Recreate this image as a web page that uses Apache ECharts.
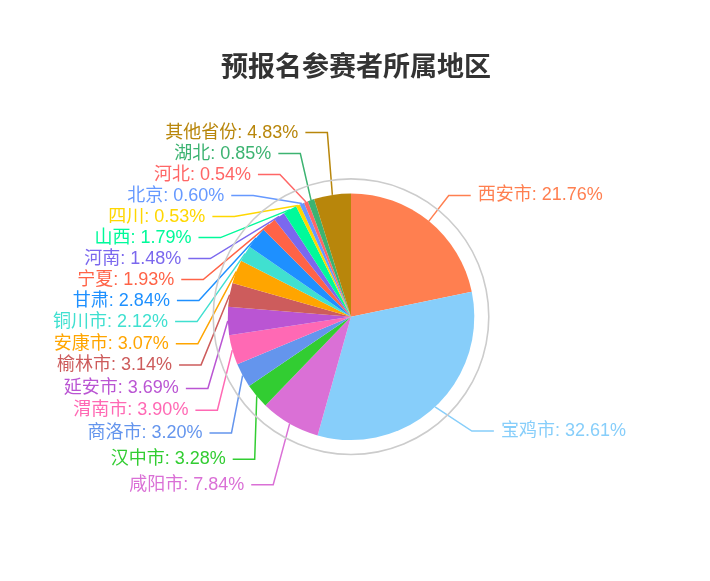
<!DOCTYPE html>
<html lang="zh">
<head>
    <meta charset="UTF-8">
    <title>预报名参赛者所属地区</title>
    <script src="https://cdn.jsdelivr.net/npm/echarts@6/dist/echarts.min.js"></script>
    <style>
        html, body { margin: 0; padding: 0; background: #fff; }
        #chart { width: 710px; height: 581px; }
    </style>
</head>
<body>
<div id="chart"></div>
<script>
    var titleText = '预报名参赛者所属地区';
    var regions = ['西安市', '宝鸡市', '咸阳市', '汉中市', '商洛市', '渭南市', '延安市', '榆林市', '安康市', '铜川市',
        '甘肃', '宁夏', '河南', '山西', '四川', '北京', '河北', '湖北', '其他省份'];
    var shares = [21.76, 32.61, 7.84, 3.28, 3.20, 3.90, 3.69, 3.14, 3.07, 2.12,
        2.84, 1.93, 1.48, 1.79, 0.53, 0.60, 0.54, 0.85, 4.83];
    var palette = ['#ff7f50', '#87cefa', '#da70d6', '#32cd32', '#6495ed', '#ff69b4', '#ba55d3', '#cd5c5c', '#ffa500', '#40e0d0',
        '#1e90ff', '#ff6347', '#7b68ee', '#00fa9a', '#ffd700', '#6699ff', '#ff6666', '#3cb371', '#b8860b'];

    var font = '"Microsoft YaHei", "Liberation Sans", "Noto Sans CJK SC", sans-serif';

    // pie geometry
    var CX = 351, CY = 316.7, R = 123.3;
    // label layout settings
    var LEN = 33, LABEL_H = 21, LIFT = 15, SPAN = 181, SEG2 = 22, LINE_GAP = 5, TEXT_GAP = 7, X_SHIFT_Y = 10, VIEW_H = 581;

    // old-style outside labels: stack them per side without overlap,
    // then pull them onto a circle round the pie
    function placeLabels() {
        var total = shares.reduce(function (a, b) { return a + b; }, 0);
        var cum = 0;
        var items = shares.map(function (v, i) {
            var mid = -Math.PI / 2 + 2 * Math.PI * (cum + v / 2) / total;
            cum += v;
            var dx = Math.cos(mid), dy = Math.sin(mid);
            var y = CY + (R + LEN) * dy;
            return { idx: i, dx: dx, dy: dy, y: y, y0: y, height: LABEL_H, left: dx < 0 };
        });

        function side(list, dir) {
            list.sort(function (a, b) { return a.y - b.y; });
            function shiftUp(end, delta) {
                for (var j = end; j >= 0; j--) {
                    if (list[j].y - delta < 0) break;
                    list[j].y -= delta;
                    if (j > 0 && list[j].y > list[j - 1].y + list[j - 1].height) break;
                }
            }
            function shiftDown(start, end, delta) {
                for (var j = start; j < end; j++) {
                    if (list[j].y + delta > VIEW_H) break;
                    list[j].y += delta;
                    if (j > start && j + 1 < end && list[j + 1].y > list[j].y + list[j].height) {
                        shiftUp(j, delta / 2);
                        return;
                    }
                }
                shiftUp(end - 1, delta / 2);
            }
            var lastY = 0;
            for (var i = 0; i < list.length; i++) {
                var delta = list[i].y - lastY;
                if (delta < 0) shiftDown(i, list.length, -delta);
                lastY = list[i].y + list[i].height;
            }
            var moved = list.some(function (it) { return Math.abs(it.y - it.y0) > 0.01; });
            if (moved) list.forEach(function (it) { it.y -= LIFT; });

            function changeX(sub, isDown) {
                var last = isDown ? Number.MAX_VALUE : 0;
                sub.forEach(function (it) {
                    var dyv = Math.abs(it.y - X_SHIFT_Y - CY);
                    var deltaX = dyv < R + LEN
                        ? Math.sqrt(SPAN * SPAN - dyv * dyv)
                        : (R + LEN) * Math.abs(it.dx) + SEG2 + LINE_GAP;
                    if (isDown && deltaX >= last) deltaX = last - 10;
                    if (!isDown && deltaX <= last) deltaX = last + 10;
                    it.lineEnd = CX + dir * (deltaX - LINE_GAP);
                    last = deltaX;
                });
            }
            changeX(list.filter(function (it) { return it.y - X_SHIFT_Y < CY; }), false);
            changeX(list.filter(function (it) { return it.y - X_SHIFT_Y >= CY; }), true);
        }

        side(items.filter(function (it) { return !it.left; }), 1);
        side(items.filter(function (it) { return it.left; }), -1);

        var out = [];
        items.forEach(function (it) {
            var dir = it.left ? -1 : 1;
            out[it.idx] = {
                x: it.lineEnd + dir * TEXT_GAP,
                y: it.y,
                align: it.left ? 'right' : 'left',
                pts: [
                    [CX + R * it.dx, CY + R * it.dy],
                    [it.lineEnd - dir * SEG2, it.y],
                    [it.lineEnd, it.y]
                ]
            };
        });
        return out;
    }
    var labelPos = placeLabels();

    var pieData = regions.map(function (name, i) {
        return {
            name: name,
            value: shares[i],
            itemStyle: { color: palette[i] },
            label: { color: palette[i] },
            labelLine: { lineStyle: { color: palette[i] } }
        };
    });

    var chart = echarts.init(document.getElementById('chart'));
    chart.setOption({
        animation: false,
        title: {
            text: titleText,
            left: CX,
            textAlign: 'center',
            top: 50,
            textStyle: { fontSize: 27, fontWeight: 'bold', color: '#333', fontFamily: font }
        },
        series: [{
            // thin grey ring around the pie
            type: 'pie',
            silent: true,
            center: [CX, CY],
            radius: [137, 138.6],
            label: { show: false },
            labelLine: { show: false },
            itemStyle: { color: '#cccccc' },
            data: [{ value: 1, name: '' }]
        }, {
            type: 'pie',
            center: [CX, CY],
            radius: [0, R],
            startAngle: 90,
            clockwise: true,
            avoidLabelOverlap: false,
            label: {
                formatter: function (p) { return p.name + ': ' + p.percent.toFixed(2) + '%'; },
                fontSize: 18,
                fontFamily: font
            },
            labelLine: { length: LEN, length2: SEG2, lineStyle: { width: 1.5 } },
            labelLayout: function (params) {
                var l = labelPos[params.dataIndex];
                return { x: l.x, y: l.y, align: l.align, verticalAlign: 'middle', labelLinePoints: l.pts };
            },
            data: pieData
        }]
    });
</script>
</body>
</html>
